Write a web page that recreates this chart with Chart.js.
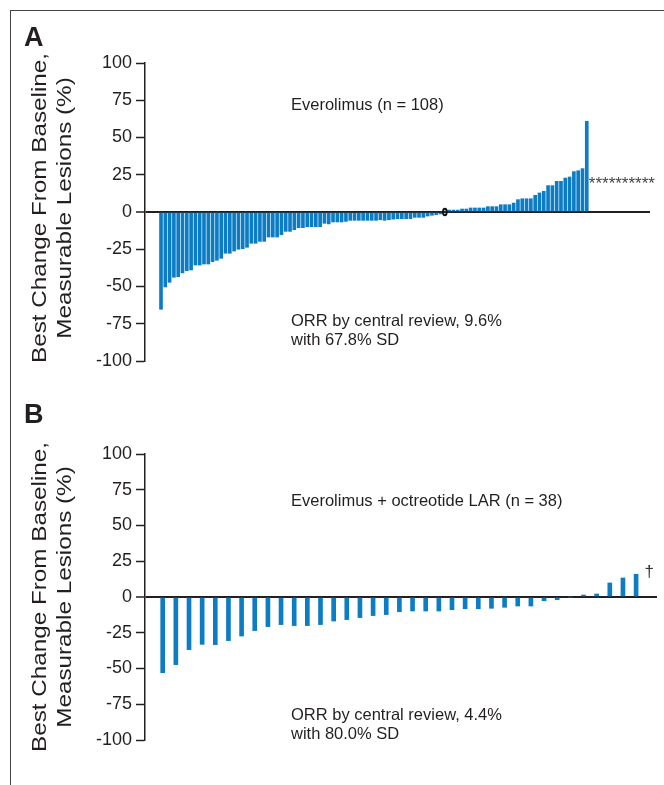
<!DOCTYPE html>
<html><head><meta charset="utf-8">
<script src="https://cdn.jsdelivr.net/npm/chart.js@4/dist/chart.umd.min.js"></script>
<style>
html,body{margin:0;padding:0;background:#fff;}
body{width:664px;height:785px;position:relative;overflow:hidden;font-family:"Liberation Sans",Arial,sans-serif;color:#231f20;}
#frame{position:absolute;left:10px;top:10px;width:700px;height:800px;border-left:1px solid #444;border-top:1px solid #444;}
.panel{position:absolute;left:0;width:664px;}
canvas{display:block;}
.lab{position:absolute;font-size:16.5px;line-height:19px;white-space:nowrap;}
.letter{position:absolute;font-weight:bold;font-size:27px;line-height:27px;}
</style></head><body>
<div id="frame"></div>
<div class="panel" style="top:0;height:392px"><canvas id="cA" width="664" height="392"></canvas></div>
<div class="panel" style="top:392px;height:393px"><canvas id="cB" width="664" height="393"></canvas></div>
<div class="letter" style="left:24px;top:24px">A</div>
<div class="letter" style="left:24px;top:401px">B</div>
<div class="lab" style="left:291px;top:95px">Everolimus (n = 108)</div>
<div class="lab" style="left:291px;top:311px">ORR by central review, 9.6%<br>with 67.8% SD</div>
<div class="lab" style="left:291px;top:491px">Everolimus + octreotide LAR (n = 38)</div>
<div class="lab" style="left:291px;top:705px">ORR by central review, 4.4%<br>with 80.0% SD</div>
<script>
// ---- Data ----
const yTicks = [-100, -75, -50, -25, 0, 25, 50, 75, 100];
const yTitleLines = ["Best Change From Baseline,", "Measurable Lesions (%)"];
// Panel A: Everolimus, best % change per patient (sorted)
const changeA = [
  -65.3, -50.3, -47.2, -43.8, -43.4, -40.9, -39.4, -38.9, -35.6, -35.6,
  -34.9, -34.9, -33.3, -32.4, -31.1, -27.7, -27.7, -26.2, -25.0, -24.6,
  -23.7, -21.0, -21.0, -19.7, -19.7, -16.8, -16.8, -16.8, -15.2, -13.0,
  -13.0, -11.9, -10.5, -10.5, -9.9, -9.9, -9.9, -9.9, -7.6, -8.0,
  -6.7, -6.7, -6.7, -6.3, -5.6, -5.6, -5.6, -5.6, -5.6, -5.6,
  -5.6, -5.2, -5.6, -5.2, -4.8, -4.5, -4.5, -4.5, -4.5, -3.6,
  -3.6, -3.6, -2.7, -2.2, -1.8, -1.3,
  0,
  1.3, 1.3, 1.3, 2.0, 2.0, 2.7, 2.7, 2.7, 2.7, 3.6,
  3.6, 3.6, 4.9, 4.9, 4.9, 6.0, 8.3, 8.9, 8.9, 8.9,
  11.2, 12.8, 13.9, 17.7, 17.7, 20.6, 20.6, 22.8, 23.5, 27.1,
  27.7, 29.1, 60.9
];
const zeroIndexA = 66;
const notEvaluableA = "**********";
// Panel B: Everolimus + octreotide LAR
const changeB = [
  -52.9, -47.3, -36.8, -33.1, -33.3, -30.5, -27.3, -23.5, -20.7, -19.3,
  -20.0, -20.0, -19.3, -16.8, -15.8, -14.4, -13.0, -12.3, -10.3, -9.8,
  -9.8, -9.8, -8.9, -8.2, -8.2, -7.9, -7.2, -6.3, -6.3, -2.6,
  -1.9, 0, 1.4, 2.1, 9.8, 13.3, 15.9
];
const notEvaluableB = "\u2020";

// ---- Styles ----
const FONT = '"Liberation Sans", Arial, sans-serif';
const BAR = '#0c7dc4';
const AX = '#231f20';
const TXT = '#231f20';

function yScaleOpts() {
  return {
    min: -100, max: 100,
    afterFit(s) { s.width = 145; },
    afterBuildTicks(s) { s.ticks = yTicks.map(v => ({ value: v })); },
    border: { display: true, color: AX, width: 1.5 },
    grid: {
      color(c) { return c.tick && c.tick.value === 0 ? AX : 'rgba(0,0,0,0)'; },
      lineWidth(c) { return c.tick && c.tick.value === 0 ? 2 : 1; },
      tickColor: AX, tickWidth: 1.5, tickLength: 9, drawOnChartArea: true
    },
    ticks: { font: { size: 18, family: FONT }, color: TXT, padding: 4, callback: v => String(v) }
  };
}

function titlePlugin(cy) {
  return {
    id: 'ytitle',
    afterDraw(chart) {
      const ctx = chart.ctx;
      const xs = [46, 71];
      ctx.save();
      ctx.font = '21px ' + FONT;
      ctx.fillStyle = TXT;
      ctx.textAlign = 'center';
      ctx.textBaseline = 'alphabetic';
      const w0 = ctx.measureText(yTitleLines[0]).width;
      const sx = 310 / w0;
      yTitleLines.forEach((t, i) => {
        ctx.save();
        ctx.translate(xs[i], cy);
        ctx.rotate(-Math.PI / 2);
        ctx.scale(sx, 1);
        ctx.fillText(t, 0, 0);
        ctx.restore();
      });
      ctx.restore();
    }
  };
}

const markA = {
  id: 'markA',
  afterDatasetsDraw(chart) {
    const ctx = chart.ctx, xs = chart.scales.x, ys = chart.scales.y;
    ctx.save();
    const zx = xs.getPixelForValue(zeroIndexA), zy = ys.getPixelForValue(0);
    ctx.strokeStyle = '#111'; ctx.lineWidth = 2;
    ctx.beginPath(); ctx.ellipse(zx, zy, 1.8, 3.2, 0, 0, Math.PI * 2); ctx.stroke();
    ctx.fillStyle = '#444';
    ctx.font = '17px ' + FONT;
    ctx.textAlign = 'left'; ctx.textBaseline = 'alphabetic';
    ctx.fillText(notEvaluableA, xs.getPixelForValue(changeA.length - 1) + 2, ys.getPixelForValue(15.5));
    ctx.restore();
  }
};
const markB = {
  id: 'markB',
  afterDatasetsDraw(chart) {
    const ctx = chart.ctx, xs = chart.scales.x, ys = chart.scales.y;
    ctx.save();
    ctx.fillStyle = '#333';
    ctx.font = '17px ' + FONT;
    ctx.textAlign = 'center'; ctx.textBaseline = 'alphabetic';
    ctx.fillText(notEvaluableB, xs.getPixelForValue(changeB.length), ys.getPixelForValue(14));
    ctx.restore();
  }
};

function makeChart(id, values, thick, xmin, xmax, pad, plugins) {
  return new Chart(document.getElementById(id), {
    type: 'bar',
    data: { datasets: [{ data: values.map((v, i) => ({ x: i, y: v })), backgroundColor: BAR, borderWidth: 0, barThickness: thick }] },
    options: {
      responsive: false, animation: false, events: [],
      layout: { padding: pad },
      plugins: { legend: { display: false }, tooltip: { enabled: false } },
      scales: {
        x: { type: 'linear', display: false, min: xmin, max: xmax, offset: false, grid: { display: false } },
        y: yScaleOpts()
      }
    },
    plugins: plugins
  });
}

makeChart('cA', changeA, 3, -3.72, 113.7, { left: 0, right: 14, top: 63, bottom: 392 - 361 }, [titlePlugin(208), markA]);
makeChart('cB', changeB, 4, -1.346, 37.59, { left: 0, right: 7, top: 62, bottom: 393 - 348 }, [titlePlugin(205), markB]);
</script>
</body></html>
